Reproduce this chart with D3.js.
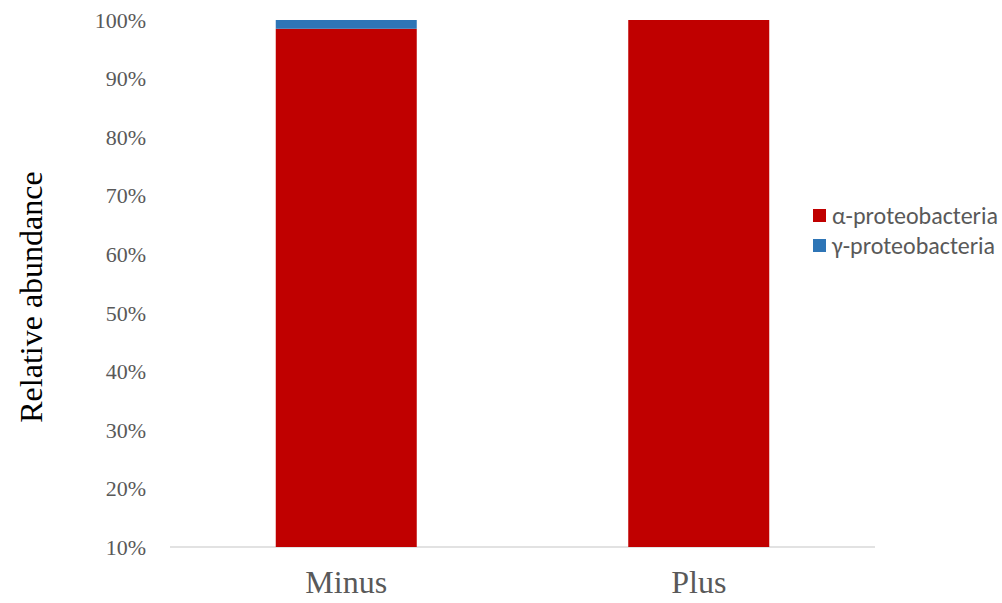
<!DOCTYPE html>
<html><head><meta charset="utf-8">
<script src="https://cdn.jsdelivr.net/npm/d3@7"></script>
<style>body{margin:0;background:#fff}</style>
</head><body>
<svg id="c" width="1002" height="603"></svg>
<script>
const categories = ["Minus", "Plus"];
const seriesNames = ["α-proteobacteria", "γ-proteobacteria"];
const alphaValues = [0.985, 1.0];
const gammaValues = [0.015, 0.0];
const tickValues = [0.1,0.2,0.3,0.4,0.5,0.6,0.7,0.8,0.9,1.0];
const colors = ["#c00000", "#2e75b6"];

const svg = d3.select("#c");
const x = d3.scaleBand().domain(categories).range([170, 875]).paddingInner(0.6).paddingOuter(0.3);
const y = d3.scaleLinear().domain([0.1, 1.0]).range([547, 20]);

const data = categories.map((c,i)=>({cat:c, a:alphaValues[i], g:gammaValues[i]}));
const stack = d3.stack().keys(["a","g"])(data);

// baseline
svg.append("line").attr("x1",170).attr("x2",875).attr("y1",y(0.1)).attr("y2",y(0.1))
  .attr("stroke","#d9d9d9").attr("stroke-width",1.5);

stack.forEach((s,si)=>{
  svg.append("g").selectAll("rect").data(s).join("rect")
    .attr("x", d=>x(d.data.cat))
    .attr("width", x.bandwidth())
    .attr("y", d=>y(Math.min(d[1],1)))
    .attr("height", d=>Math.max(0, y(Math.max(d[0],0.1)) - y(d[1])))
    .attr("fill", colors[si]);
});

// y axis
const yAxis = d3.axisLeft(y).tickValues(tickValues).tickFormat(d3.format(".0%")).tickSize(0).tickPadding(0);
const ya = svg.append("g").attr("transform","translate(146,0)").call(yAxis);
ya.select(".domain").remove();
ya.selectAll("text").attr("font-family","Liberation Serif, Times New Roman, serif").attr("font-size",22).attr("fill","#595959").attr("dy","0.33em");

// x axis
const xAxis = d3.axisBottom(x).tickSize(0).tickPadding(0);
const xa = svg.append("g").attr("transform","translate(0,593)").call(xAxis);
xa.select(".domain").remove();
xa.selectAll("text").attr("font-family","Liberation Serif, Times New Roman, serif").attr("font-size",32).attr("fill","#595959").attr("dy","0");

// y title
svg.append("text").attr("transform","translate(42,297) rotate(-90)").attr("text-anchor","middle")
  .attr("font-family","Liberation Serif, Times New Roman, serif").attr("font-size",32).attr("fill","#000")
  .text("Relative abundance");

// legend
const lg = svg.append("g").attr("transform","translate(813,209)");
seriesNames.forEach((n,i)=>{
  const g = lg.append("g").attr("transform",`translate(0,${i*30})`);
  g.append("rect").attr("width",13).attr("height",13).attr("fill",colors[i]);
  g.append("text").attr("x",19).attr("y",6.5).attr("dy","0.35em")
   .attr("font-family","Carlito, Calibri, Open Sans, sans-serif").attr("font-size",24).attr("fill","#595959").text(n);
});
</script>
</body></html>
